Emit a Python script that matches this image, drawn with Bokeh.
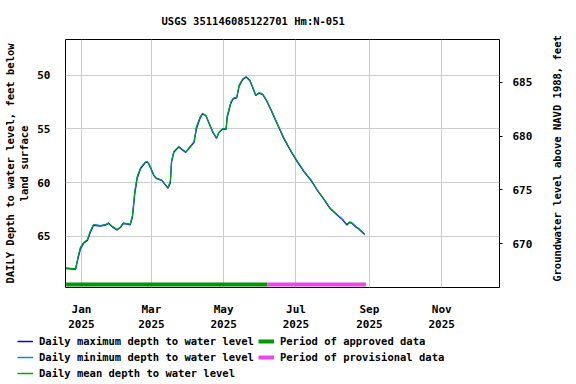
import math
from datetime import datetime
from bokeh.plotting import figure
from bokeh.layouts import column, row
from bokeh.models import (Range1d, LinearAxis, Legend, LegendItem, FixedTicker, Label,
                          DatetimeTickFormatter, ColumnDataSource)
from bokeh.embed import file_html
from bokeh.resources import INLINE

# ---- data ----
dates = ["2024-12-19", "2024-12-27", "2024-12-29", "2024-12-31", "2025-01-03", "2025-01-06",
         "2025-01-08", "2025-01-11", "2025-01-17", "2025-01-21", "2025-01-24", "2025-01-27",
         "2025-01-31", "2025-02-03", "2025-02-05", "2025-02-09", "2025-02-11", "2025-02-13",
         "2025-02-15", "2025-02-17", "2025-02-20", "2025-02-24", "2025-02-26", "2025-02-28",
         "2025-03-03", "2025-03-05", "2025-03-10", "2025-03-12", "2025-03-15", "2025-03-17",
         "2025-03-18", "2025-03-20", "2025-03-24", "2025-03-30", "2025-04-02", "2025-04-06",
         "2025-04-08", "2025-04-11", "2025-04-13", "2025-04-16", "2025-04-19", "2025-04-22",
         "2025-04-25", "2025-04-27", "2025-04-30", "2025-05-03", "2025-05-04", "2025-05-07",
         "2025-05-09", "2025-05-12", "2025-05-14", "2025-05-17", "2025-05-20", "2025-05-23",
         "2025-05-26", "2025-05-28", "2025-05-31", "2025-06-03", "2025-06-06", "2025-06-10",
         "2025-06-16", "2025-06-21", "2025-06-27", "2025-07-02", "2025-07-08", "2025-07-14",
         "2025-07-19", "2025-07-25", "2025-07-30", "2025-08-05", "2025-08-09", "2025-08-13",
         "2025-08-15", "2025-08-17", "2025-08-21", "2025-08-23", "2025-08-28"]
depth_mean = [67.96, 68.03, 66.98, 66.08, 65.57, 65.33, 64.67, 63.92, 64.01, 63.92, 63.77, 64.08,
              64.37, 64.13, 63.77, 63.83, 63.90, 63.09, 60.84, 59.49, 58.60, 58.08, 58.08, 58.51,
              59.28, 59.58, 59.79, 60.09, 60.48, 59.88, 57.99, 57.10, 56.65, 57.16, 56.74, 56.20,
              54.85, 53.95, 53.57, 53.75, 54.55, 55.30, 55.84, 55.30, 55.00, 55.00, 53.80, 52.54,
              52.16, 52.07, 50.96, 50.36, 50.15, 50.45, 51.26, 51.86, 51.64, 51.77, 52.31, 53.21,
              54.70, 55.90, 57.10, 57.99, 58.98, 59.79, 60.69, 61.59, 62.40, 63.00, 63.38, 63.90,
              63.68, 63.72, 64.13, 64.28, 64.79]
depth_max = [67.99, 68.06, 67.10, 66.20, 65.62, 65.38, 64.75, 63.98, 64.04, 63.95, 63.80, 64.12,
             64.40, 64.16, 63.81, 63.86, 63.94, 63.22, 61.00, 59.60, 58.66, 58.11, 58.11, 58.56,
             59.33, 59.61, 59.82, 60.12, 60.52, 60.00, 58.10, 57.16, 56.68, 57.19, 56.78, 56.26,
             54.98, 54.02, 53.60, 53.78, 54.60, 55.35, 55.88, 55.34, 55.03, 55.04, 53.92, 52.62,
             52.20, 52.11, 51.04, 50.40, 50.18, 50.49, 51.31, 51.90, 51.67, 51.81, 52.36, 53.27,
             54.76, 55.96, 57.15, 58.04, 59.03, 59.83, 60.73, 61.63, 62.44, 63.04, 63.41, 63.94,
             63.71, 63.75, 64.17, 64.31, 64.83]
depth_min = [67.93, 68.00, 66.90, 66.00, 65.52, 65.29, 64.60, 63.88, 63.98, 63.89, 63.74, 64.04,
             64.34, 64.10, 63.74, 63.80, 63.87, 63.00, 60.72, 59.40, 58.55, 58.05, 58.05, 58.47,
             59.24, 59.55, 59.76, 60.06, 60.44, 59.80, 57.90, 57.05, 56.62, 57.13, 56.70, 56.15,
             54.75, 53.89, 53.54, 53.72, 54.50, 55.26, 55.80, 55.26, 54.97, 54.96, 53.70, 52.47,
             52.12, 52.03, 50.89, 50.32, 50.12, 50.42, 51.22, 51.82, 51.61, 51.74, 52.27, 53.16,
             54.65, 55.85, 57.05, 57.95, 58.94, 59.76, 60.66, 61.56, 62.37, 62.97, 63.35, 63.87,
             63.65, 63.69, 64.10, 64.25, 64.76]

approved_period = ["2024-12-19", "2025-06-07"]
provisional_period = ["2025-06-07", "2025-08-29"]
period_bar_depth = 69.49

land_surface_elev = 735.67
depth_range = (69.76, 46.68)
x_range_dates = ("2024-12-18 12:00", "2025-12-19 18:00")
month_ticks = ["2025-01-01", "2025-03-01", "2025-05-01", "2025-07-01", "2025-09-01", "2025-11-01"]
depth_ticks = [50, 55, 60, 65]
elev_ticks = [670, 675, 680, 685]

title = "USGS 351146085122701 Hm:N-051"
left_label = "DAILY Depth to water level, feet below\nland surface"
right_label = "Groundwater level above NAVD 1988, feet"
legend_labels = ["Daily maximum depth to water level", "Daily minimum depth to water level",
                 "Daily mean depth to water level", "Period of approved data",
                 "Period of provisional data"]


def dt(s):
    return datetime.fromisoformat(s)


def ms(s):
    return dt(s).timestamp() * 1000.0


def no_align(fig):
    try:
        fig.frame_align = False
    except Exception:
        pass


FONT = "DejaVu Sans Mono"
TXT = "#000000"
C_MAX, C_MIN, C_MEAN, C_APP, C_PROV = "#0000ff", "#0090e0", "#00aa00", "#009900", "#ee44ee"

x0, x1 = dt(x_range_dates[0]), dt(x_range_dates[1])
p = figure(width=548, height=334, output_backend="svg", toolbar_location=None,
           x_axis_type="datetime", x_range=Range1d(x0, x1),
           y_range=Range1d(depth_range[0], depth_range[1]),
           min_border_left=64, min_border_right=49, min_border_top=39, min_border_bottom=38)
no_align(p)

p.extra_y_ranges = {"elev": Range1d(land_surface_elev - depth_range[0],
                                    land_surface_elev - depth_range[1])}

p.title.text = title
p.title.text_font = FONT
p.title.text_font_size = "10.5px"
p.title.text_font_style = "bold"
p.title.text_color = TXT
p.title.align = "left"
p.title.offset = 96
p.title.standoff = 25

p.outline_line_color = "black"
p.outline_line_width = 1
p.background_fill_color = "white"
p.border_fill_color = "white"

# bottom axis
xa = p.xaxis[0]
xa.ticker = FixedTicker(ticks=[ms(t) for t in month_ticks])
fmt = "%b\n%Y"
xa.formatter = DatetimeTickFormatter(milliseconds=fmt, seconds=fmt, minsec=fmt, minutes=fmt,
                                     hourmin=fmt, hours=fmt, days=fmt, months=fmt, years=fmt)
xa.major_tick_line_color = None
xa.minor_tick_line_color = None
xa.axis_line_color = None
xa.major_label_text_font = FONT
xa.major_label_text_font_size = "11px"
xa.major_label_text_font_style = "bold"
xa.major_label_text_color = TXT
xa.major_label_standoff = 9

# left axis
ya = p.yaxis[0]
ya.ticker = FixedTicker(ticks=depth_ticks)
ya.major_tick_line_color = None
ya.minor_tick_line_color = None
ya.axis_line_color = None
ya.major_label_text_font = FONT
ya.major_label_text_font_size = "11px"
ya.major_label_text_font_style = "bold"
ya.major_label_text_color = TXT
ya.major_label_standoff = 9
ya.axis_label = left_label
ya.axis_label_text_font = FONT
ya.axis_label_text_font_size = "10.5px"
ya.axis_label_text_font_style = "bold"
ya.axis_label_text_color = TXT
ya.axis_label_standoff = 4

# right axis (label drawn in the strip to the right, reading bottom-to-top)
ra = LinearAxis(y_range_name="elev", ticker=FixedTicker(ticks=elev_ticks))
ra.major_tick_out = 3
ra.major_tick_in = 0
ra.major_tick_line_color = "black"
ra.minor_tick_line_color = None
ra.axis_line_color = None
ra.major_label_text_font = FONT
ra.major_label_text_font_size = "11px"
ra.major_label_text_font_style = "bold"
ra.major_label_text_color = TXT
ra.major_label_standoff = 10
p.add_layout(ra, "right")

p.xgrid.grid_line_color = "#cccccc"
p.ygrid.grid_line_color = "#cccccc"
p.xgrid.ticker = xa.ticker
p.ygrid.ticker = ya.ticker

src = ColumnDataSource(dict(x=[dt(d) for d in dates], ymax=depth_max, ymin=depth_min,
                            ymean=depth_mean))
p.line("x", "ymax", source=src, line_color=C_MAX, line_width=1.3)
p.line("x", "ymin", source=src, line_color=C_MIN, line_width=1)
p.line("x", "ymean", source=src, line_color=C_MEAN, line_width=1)

p.line([dt(d) for d in approved_period], [period_bar_depth] * 2, line_color=C_APP, line_width=4)
p.line([dt(d) for d in provisional_period], [period_bar_depth] * 2, line_color=C_PROV, line_width=4)

# ---- right label strip ----
r = figure(width=28, height=334, output_backend="svg", toolbar_location=None,
           x_range=Range1d(0, 1), y_range=Range1d(0, 1),
           x_axis_location=None, y_axis_location=None,
           min_border_left=0, min_border_right=0, min_border_top=0, min_border_bottom=0)
no_align(r)
r.grid.visible = False
r.outline_line_color = None
r.background_fill_color = "white"
r.border_fill_color = "white"
r.add_layout(Label(x=8, y=176, x_units="screen", y_units="screen", text=right_label,
                   angle=math.pi / 2, text_align="center", text_baseline="middle",
                   text_font=FONT, text_font_size="10.5px", text_font_style="bold",
                   text_color=TXT))

# ---- legend strip below the chart ----
q = figure(width=576, height=50, output_backend="svg", toolbar_location=None,
           x_range=Range1d(0, 1), y_range=Range1d(0, 1),
           x_axis_location=None, y_axis_location=None,
           min_border_left=0, min_border_right=0, min_border_top=0, min_border_bottom=0)
no_align(q)
q.grid.visible = False
q.outline_line_color = None
q.background_fill_color = "white"
q.border_fill_color = "white"

widths = [1.5, 1.5, 1.5, 4, 4]
colors = [C_MAX, C_MIN, C_MEAN, C_APP, C_PROV]
items = []
for lab, c, w in zip(legend_labels, colors, widths):
    rr = q.line([math.nan], [math.nan], line_color=c, line_width=w)
    items.append(LegendItem(label=lab, renderers=[rr]))

legend = Legend(items=items, location=(17, 5), nrows=3, orientation="vertical")
legend.label_text_font = FONT
legend.label_text_font_size = "10.5px"
legend.label_text_font_style = "bold"
legend.label_text_color = TXT
legend.glyph_width = 16
legend.glyph_height = 12
legend.label_height = 12
legend.label_standoff = 6
legend.spacing = 4
legend.padding = 0
legend.margin = 0
legend.border_line_color = None
legend.background_fill_alpha = 0
q.add_layout(legend, "center")

layout = column(row(p, r, spacing=0), q, spacing=0)
open("out.html", "w").write(file_html(layout, INLINE))
